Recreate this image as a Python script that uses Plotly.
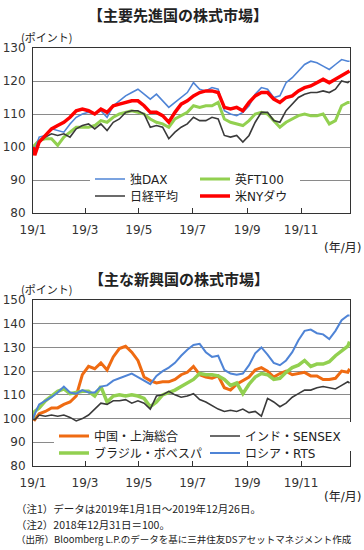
import plotly.graph_objects as go

dates = ["2019-01-01", "2019-01-03", "2019-01-08", "2019-01-15", "2019-01-22", "2019-01-29",
         "2019-02-05", "2019-02-12", "2019-02-19", "2019-02-26", "2019-03-05", "2019-03-12",
         "2019-03-19", "2019-03-26", "2019-04-02", "2019-04-09", "2019-04-16", "2019-04-23",
         "2019-04-30", "2019-05-07", "2019-05-14", "2019-05-21", "2019-05-28", "2019-06-04",
         "2019-06-11", "2019-06-18", "2019-06-25", "2019-07-02", "2019-07-09", "2019-07-16",
         "2019-07-23", "2019-07-30", "2019-08-06", "2019-08-13", "2019-08-20", "2019-08-27",
         "2019-09-03", "2019-09-10", "2019-09-17", "2019-09-24", "2019-10-01", "2019-10-08",
         "2019-10-15", "2019-10-22", "2019-10-29", "2019-11-05", "2019-11-12", "2019-11-19",
         "2019-11-26", "2019-12-03", "2019-12-10", "2019-12-17", "2019-12-24", "2019-12-26"]

dax = [100, 99, 103, 103.5, 105.5, 105, 104.5, 107, 109, 110, 110.5, 110, 111, 109, 112.5, 114,
       115.5, 116.5, 117.5, 116, 114.5, 116, 114, 112, 113.5, 115, 116.5, 119.5, 117.5, 117, 118,
       117.5, 111, 110, 109.5, 110.5, 112.5, 116, 118, 117.5, 115, 115.5, 119.5, 121, 123, 125,
       126, 125.5, 124.5, 123.5, 125, 126.5, 126, 126]
ftse = [100, 100.5, 102, 102.5, 102.5, 100.5, 103, 104.5, 106, 106, 106, 106.5, 108, 107.5, 109,
        110, 110.5, 111, 110.5, 110, 108.5, 107.5, 107, 106, 108.5, 109.5, 110.5, 112.5, 112,
        112.5, 112.5, 113.5, 108.5, 107.5, 107, 106.5, 108, 110, 110.5, 110, 108, 106, 107.5,
        108.5, 109.5, 110, 109.5, 109.5, 110, 107, 108, 112.5, 113.5, 113.5]
nikkei = [100, 98.5, 101.5, 103, 104, 103.5, 104, 103, 105.5, 106.5, 107, 105.5, 107, 105, 107.5,
          108.5, 110.5, 111, 111, 110, 106, 106.5, 106, 102.5, 104.5, 106, 107, 109, 108, 108,
          109, 108.5, 103.5, 103, 103.5, 101.5, 103.5, 107.5, 110.5, 110.5, 108, 107.5, 111, 113,
          115, 116, 116.5, 116.5, 117, 116.5, 117.5, 120, 119.5, 120]
dow = [100, 97.5, 101.5, 103.5, 105.5, 106.5, 107.5, 109, 111, 111.5, 111, 110, 111.5, 110.5,
       112.5, 113, 113.5, 114, 114, 112.5, 110.5, 110.5, 109.5, 107.5, 110.5, 113, 114, 115.5,
       116.5, 117, 117, 116.5, 112, 111.5, 112, 111, 113.5, 115.5, 116.5, 116.5, 114.5, 113.5,
       115, 115.5, 117, 118, 118.5, 119.5, 120.5, 119.5, 120.5, 121.5, 122.5, 123]

shanghai = [100, 99.5, 102, 103, 104.5, 104.5, 106, 107, 109.5, 118.5, 122, 121, 123.5, 120.5,
            126, 129.5, 130.5, 128, 124.5, 117.5, 116, 115, 115.5, 115.5, 116.5, 118.5, 119.5,
            122, 118.5, 117.5, 117, 118, 113, 112, 114.5, 116, 117.5, 120.5, 121.5, 120, 117.5,
            119, 120, 118.5, 119, 119.5, 118, 118, 116.5, 116.5, 117, 120, 119.5, 121]
sensex = [100, 99.5, 101.5, 101, 101.5, 101, 101.5, 100.5, 99, 100, 101.5, 104, 106.5, 106,
          107.5, 107.5, 108, 106.5, 107.5, 106.5, 104, 109.5, 110, 111.5, 110, 109, 109.5, 110.5,
          108, 107, 105.5, 104, 103, 103.5, 103, 104, 102.5, 103, 101, 108.5, 107, 105, 106.5,
          109, 110.5, 112, 112, 113, 113.5, 113, 112.5, 114, 115.5, 115]
bovespa = [100, 103, 104.5, 107.5, 109.5, 111.5, 112.5, 110.5, 111, 111.5, 111.5, 109.5, 113.5,
           107, 109.5, 110, 109.5, 110, 109.5, 108.5, 105, 107, 110, 111, 112, 113.5, 115, 116.5,
           119, 118.5, 118.5, 118, 116.5, 114, 115, 110.5, 114.5, 117.5, 119, 118.5, 116.5, 117,
           119.5, 121.5, 122.5, 124.5, 122, 123, 123, 124, 126.5, 128.5, 130.5, 132.5]
rts = [100, 102, 106, 107.5, 109, 111, 113.5, 111, 110.5, 112, 111, 111, 113.5, 114, 116, 117,
       118, 119, 117.5, 116, 114.5, 118, 120, 121.5, 123.5, 126.5, 129, 131, 131.5, 128, 126,
       126.5, 120.5, 119, 118.5, 119, 122.5, 127.5, 130, 127, 123.5, 122.5, 124.5, 128, 133, 137,
       137.5, 136, 135.5, 133.5, 137, 141.5, 143.5, 143.5]

tick_dates = ["2019-01-01", "2019-03-01", "2019-05-01", "2019-07-01", "2019-09-01", "2019-11-01"]
tick_text = ["19/1", "19/3", "19/5", "19/7", "19/9", "19/11"]

FONT = "DejaVu Sans, Noto Sans CJK JP"
JP = "Noto Sans CJK JP, DejaVu Sans"

fig = go.Figure()

def add(y, name, color, width, xa, ya, legend, rank):
    fig.add_trace(go.Scatter(x=dates, y=y, name=name, mode="lines",
                             line=dict(color=color, width=width),
                             xaxis=xa, yaxis=ya, legend=legend, legendrank=rank))

BLUE = "#4f84d6"
GREEN = "#92d050"
DARK = "#3a3a3a"
RED = "#ff0000"
ORANGE = "#ef6b12"

# top chart (draw order: green, blue, black, red)
add(ftse, "英FT100", GREEN, 3, "x", "y", "legend", 2)
add(dax, "独DAX", BLUE, 1.6, "x", "y", "legend", 1)
add(nikkei, "日経平均", DARK, 1.6, "x", "y", "legend2", 1)
add(dow, "米NYダウ", RED, 3.5, "x", "y", "legend2", 2)
# bottom chart
add(shanghai, "中国・上海総合", ORANGE, 3, "x2", "y2", "legend3", 1)
add(bovespa, "ブラジル・ボベスパ", GREEN, 3.5, "x2", "y2", "legend4", 1)
add(sensex, "インド・SENSEX", DARK, 1.6, "x2", "y2", "legend3", 2)
add(rts, "ロシア・RTS", BLUE, 2, "x2", "y2", "legend4", 2)

W, H = 364, 550
xdom = [33 / W, 350 / W]

def xax(anchor):
    return dict(domain=xdom, anchor=anchor, type="date",
                range=["2019-01-01", "2019-12-26 12:00"],
                tickvals=tick_dates, ticktext=tick_text,
                ticks="inside", ticklen=5, tickcolor="#333", tickwidth=1,
                showline=True, linecolor="#333", linewidth=1, mirror=True,
                showgrid=False, zeroline=False,
                tickfont=dict(family=FONT, size=12, color="#333"),
                ticklabelstandoff=6)

def yax(anchor, dom, rng):
    return dict(domain=dom, anchor=anchor, range=rng, dtick=10,
                showline=True, linecolor="#333", linewidth=1, mirror=True,
                showgrid=True, gridcolor="#8a8a8a", gridwidth=1, zeroline=False,
                ticks="", tickfont=dict(family=FONT, size=12, color="#333"),
                ticklabelstandoff=4)

def leg(x_px, y_px, ew, bg):
    return dict(orientation="h", x=x_px / W, y=1 - y_px / H, xanchor="left", yanchor="middle",
                bgcolor=bg, borderwidth=0, entrywidth=ew, entrywidthmode="pixels",
                font=dict(family=FONT, size=12, color="#222"), itemclick=False)

annos = []
def txt(x_px, y_px, text, size, xanchor="center", family=JP):
    annos.append(dict(x=x_px / W, y=1 - y_px / H, xref="paper", yref="paper", text=text,
                      showarrow=False, xanchor=xanchor, yanchor="middle",
                      font=dict(family=family, size=size, color="#222")))

txt(178, 15, "<b>【主要先進国の株式市場】</b>", 15)
txt(179, 278, "<b>【主な新興国の株式市場】</b>", 15)
txt(46, 37, "(ポイント)", 11)
txt(46, 289, "(ポイント)", 11)
txt(363, 248, "(年/月)", 12, "right", FONT)
txt(363, 497, "(年/月)", 12, "right", FONT)
txt(14, 508, "（注1）データは2019年1月1日～2019年12月26日。", 10.5, "left")
txt(14, 524, "（注2）2018年12月31日＝100。", 10.5, "left")
txt(14, 539, "（出所）Bloomberg L.P.のデータを基に三井住友DSアセットマネジメント作成", 9.5, "left")

fig.update_layout(
    width=W, height=H, autosize=False,
    margin=dict(l=0, r=0, t=0, b=0, autoexpand=False),
    paper_bgcolor="white", plot_bgcolor="white",
    xaxis=xax("y"), yaxis=yax("x", [1 - 213 / H, 1 - 48 / H], [80, 130]),
    xaxis2=xax("y2"), yaxis2=yax("x2", [1 - 466 / H, 1 - 300 / H], [80, 150]),
    legend=leg(90, 179, 60, "white"), legend2=leg(90, 196, 60, "rgba(0,0,0,0)"),
    legend3=leg(54, 436, 106, "white"), legend4=leg(54, 453, 106, "rgba(0,0,0,0)"),
    annotations=annos,
    showlegend=True,
)

fig.write_html("out.html", config={"displayModeBar": False},
               post_script="document.body.style.margin='0px';document.body.style.padding='0px';")
